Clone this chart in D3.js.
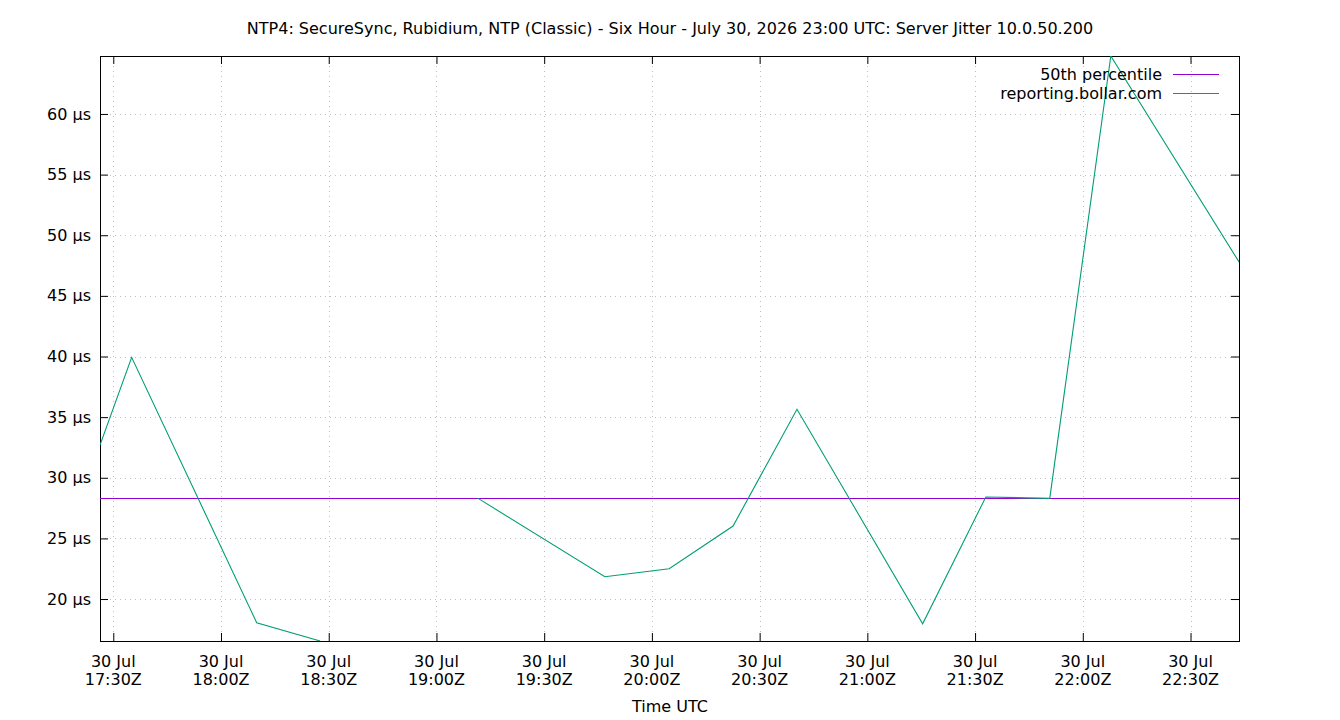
<!DOCTYPE html>
<html>
<head>
<meta charset="utf-8">
<script src="https://cdn.jsdelivr.net/npm/d3@7"></script>
<style>
  html, body { margin: 0; padding: 0; background: #fff; }
  text { font-family: "DejaVu Sans", sans-serif; fill: #000; }
</style>
</head>
<body>
<svg id="chart" width="1340" height="720"></svg>
<script>
const titleText = "NTP4: SecureSync, Rubidium, NTP (Classic) - Six Hour - July 30, 2026 23:00 UTC: Server Jitter 10.0.50.200";
const xLabel = "Time UTC";
const seriesNames = ["50th percentile", "reporting.bollar.com"];
const seriesColors = ["#9400d3", "#009e73"];

// Sample times (UTC) and jitter values in microseconds (null = gap)
const times = [
  "2026-07-30T17:26:18Z", "2026-07-30T17:35:07Z", "2026-07-30T18:09:56Z",
  "2026-07-30T18:27:36Z", "2026-07-30T18:50:00Z", "2026-07-30T19:11:36Z",
  "2026-07-30T19:46:54Z", "2026-07-30T20:04:48Z", "2026-07-30T20:22:36Z",
  "2026-07-30T20:40:24Z", "2026-07-30T21:15:24Z", "2026-07-30T21:33:00Z",
  "2026-07-30T21:50:48Z", "2026-07-30T22:07:48Z", "2026-07-30T22:43:30Z"
];
const jitter = [32.7, 39.93, 18.05, 16.54, null, 28.3, 21.84, 22.5, 26.02, 35.65, 17.96, 28.42, 28.3, 64.78, 47.8];
const percentile50 = 28.33;

const yTicks = [20, 25, 30, 35, 40, 45, 50, 55, 60];

const svg = d3.select("#chart");
const m = { left: 100, top: 56, right: 1239, bottom: 641 };
const FS = 16;

const data = times.map((t, i) => ({ t: new Date(t), v: jitter[i] }));
const valid = data.filter(d => d.v !== null);

const x = d3.scaleUtc()
  .domain(d3.extent(data, d => d.t))
  .range([m.left, m.right]);
const y = d3.scaleLinear()
  .domain(d3.extent(valid, d => d.v))
  .range([m.bottom, m.top]);

const xTicks = x.ticks(d3.utcMinute.every(30));

// grid
const grid = svg.append("g").attr("stroke", "#c0c0c0").attr("stroke-width", 1)
  .attr("stroke-dasharray", "1,4");
xTicks.forEach(t => {
  grid.append("line").attr("x1", Math.round(x(t)) + 0.5).attr("x2", Math.round(x(t)) + 0.5)
    .attr("y1", m.top).attr("y2", m.bottom);
});
yTicks.forEach(v => {
  grid.append("line").attr("y1", Math.round(y(v)) + 0.5).attr("y2", Math.round(y(v)) + 0.5)
    .attr("x1", m.left).attr("x2", m.right);
});

// axes with inward ticks (gnuplot style)
const tickLen = 8;
const xAxisB = d3.axisBottom(x).tickValues(xTicks).tickSizeInner(-tickLen).tickSizeOuter(0).tickFormat("");
const xAxisT = d3.axisTop(x).tickValues(xTicks).tickSizeInner(-tickLen).tickSizeOuter(0).tickFormat("");
const yAxisL = d3.axisLeft(y).tickValues(yTicks).tickSizeInner(-tickLen).tickSizeOuter(0).tickFormat("");
const yAxisR = d3.axisRight(y).tickValues(yTicks).tickSizeInner(-tickLen).tickSizeOuter(0).tickFormat("");
[[xAxisB, `translate(0,${m.bottom})`], [xAxisT, `translate(0,${m.top})`],
 [yAxisL, `translate(${m.left},0)`], [yAxisR, `translate(${m.right},0)`]].forEach(([ax, tr]) => {
  const g = svg.append("g").attr("transform", tr).call(ax);
  g.select(".domain").remove();
  g.selectAll("line").attr("stroke", "#000");
});

// y tick labels
svg.append("g").selectAll("text").data(yTicks).join("text")
  .attr("x", m.left - 9).attr("y", d => y(d)).attr("dy", "0.35em")
  .attr("text-anchor", "end").attr("font-size", FS)
  .text(d => d + " µs");

// x tick labels
const fDay = d3.utcFormat("%d %b"), fTime = d3.utcFormat("%H:%MZ");
const xl = svg.append("g").selectAll("g").data(xTicks).join("g")
  .attr("transform", d => `translate(${x(d)},0)`);
xl.append("text").attr("y", 667).attr("text-anchor", "middle").attr("font-size", FS).text(fDay);
xl.append("text").attr("y", 685).attr("text-anchor", "middle").attr("font-size", FS).text(fTime);

// border
svg.append("rect").attr("x", m.left + 0.5).attr("y", m.top + 0.5)
  .attr("width", m.right - m.left).attr("height", m.bottom - m.top)
  .attr("fill", "none").attr("stroke", "#000").attr("stroke-width", 1);

// clip
svg.append("clipPath").attr("id", "clip").append("rect")
  .attr("x", m.left).attr("y", m.top).attr("width", m.right - m.left).attr("height", m.bottom - m.top);
const plot = svg.append("g").attr("clip-path", "url(#clip)");

// 50th percentile
plot.append("path")
  .datum(x.domain().map(t => ({ t, v: percentile50 })))
  .attr("d", d3.line().x(d => x(d.t)).y(d => Math.round(y(d.v)) + 0.5))
  .attr("fill", "none").attr("stroke", seriesColors[0]).attr("stroke-width", 1);

// jitter series
plot.append("path")
  .datum(data)
  .attr("d", d3.line().defined(d => d.v !== null).x(d => x(d.t)).y(d => y(d.v)))
  .attr("fill", "none").attr("stroke", seriesColors[1]).attr("stroke-width", 1.1);

// title and axis label
svg.append("text").attr("x", 670).attr("y", 34).attr("text-anchor", "middle")
  .attr("font-size", FS).text(titleText);
svg.append("text").attr("x", 670).attr("y", 712).attr("text-anchor", "middle")
  .attr("font-size", FS).text(xLabel);

// legend
const lg = svg.append("g");
seriesNames.forEach((name, i) => {
  const yy = 74 + i * 19;
  lg.append("text").attr("x", 1162).attr("y", yy).attr("dy", "0.35em")
    .attr("text-anchor", "end").attr("font-size", FS).text(name);
  lg.append("line").attr("x1", 1173).attr("x2", 1219).attr("y1", yy + 0.5).attr("y2", yy + 0.5)
    .attr("stroke", seriesColors[i]).attr("stroke-width", 1);
});
</script>
</body>
</html>
